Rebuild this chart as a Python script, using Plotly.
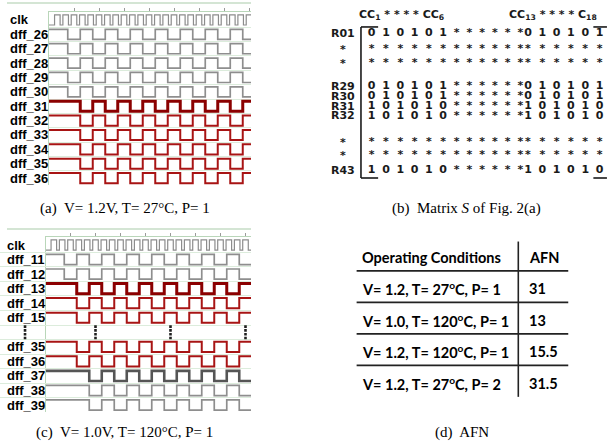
import plotly.graph_objects as go

W, H = 608, 442

# ---------------- data ----------------
# clock levels, one character per 1/9 of a flip-flop half period
CLK = ("0000"
       "111100111100111100111100111100111100"
       "111100111100111100111100111100111100"
       "111100111100111100111100111100111100"
       "111100111100111100111100111100111100")

# flip-flop output levels, one character per half period
rows_a = ["clk", "dff_26", "dff_27", "dff_28", "dff_29", "dff_30",
          "dff_31", "dff_32", "dff_33", "dff_34", "dff_35", "dff_36"]
waves_a = [CLK,
           "11010101010101010", "11010101010101010", "11010101010101010",
           "11010101010101010", "11010101010101010",
           "11101010101010101", "11101010101010101", "11101010101010101",
           "11101010101010101", "11101010101010101", "11101010101010101"]
kind_a = ["clk", "g", "g", "g", "g", "g", "R", "r", "r", "r", "r", "r"]

rows_c = ["clk", "dff_11", "dff_12", "dff_13", "dff_14", "dff_15", "⋮",
          "dff_35", "dff_36", "dff_37", "dff_38", "dff_39"]
waves_c = [CLK,
           "11010101010101010", "11010101010101010",
           "11101010101010101", "11101010101010101", "11101010101010101",
           None,
           "11101010101010101", "11101010101010101",
           "11110101010101010", "11110101010101010", "11110101010101010"]
kind_c = ["clk", "g", "g", "R", "r", "r", None, "r", "r", "G", "g", "g"]
dots_c = [4, 10, 16]

matrix_labels = ["R01", "*", "*", "R29", "R30", "R31", "R32", "*", "*", "R43"]
matrix_rows = ["010101******010101",
               "******************",
               "******************",
               "010101******010101",
               "010101******010101",
               "101010******101010",
               "101010******101010",
               "******************",
               "******************",
               "101010******101010"]
matrix_head = ["CC<sub>1</sub>\u00a0*\u00a0*\u00a0*\u00a0*\u00a0CC<sub>6</sub>",
               "CC<sub>13</sub>\u00a0*\u00a0*\u00a0*\u00a0*\u00a0C<sub>18</sub>"]

table_head = ["Operating Conditions", "AFN"]
conditions = ["V= 1.2, T= 27<sup>o</sup>C, P= 1",
              "V= 1.0, T= 120<sup>o</sup>C, P= 1",
              "V= 1.2, T= 120<sup>o</sup>C, P= 1",
              "V= 1.2, T= 27<sup>o</sup>C, P= 2"]
afn = ["31", "13", "15.5", "31.5"]

captions = ["(a)\u00a0 V= 1.2V, T= 27°C, P= 1",
            "(b)\u00a0 Matrix <i>S</i> of Fig. 2(a)",
            "(c)\u00a0 V= 1.0V, T= 120°C, P= 1",
            "(d)\u00a0 AFN"]

# ---------------- layout constants ----------------
AMP = 0.35
STYLE = {
    "clk": dict(color="#8c8c8c", width=1.2),
    "g": dict(color="#8e8e8e", width=1.7),
    "G": dict(color="#555555", width=2.6),
    "r": dict(color="#a81414", width=2.0),
    "R": dict(color="#8b0000", width=3.0),
}
GREEN = "#b9d6b9"
GRID = "#dcecdc"
LBL_FONT = dict(family="Liberation Sans, Arial", size=13, color="black")
MAT_FONT = dict(family="DejaVu Sans", size=11, color="#1a1a1a", weight="bold")
TAB_FONT = dict(family="Lato", size=14.5, color="black", weight="bold")
CAP_FONT = dict(family="Liberation Serif, Times New Roman", size=15, color="black")

fig = go.Figure()


def lvl(r, b):
    return r - AMP if b == "1" else r + AMP


def dff_xy(bits, r):
    n = len(bits)
    xs = [0] + [k - 0.5 for k in range(1, n)] + [n - 0.5]
    ys = [lvl(r, b) for b in bits] + [lvl(r, bits[-1])]
    return xs, ys


def clk_xy(bits, r):
    n = len(bits)
    xs = [j / 9 for j in range(n + 1)]
    ys = [lvl(r, b) for b in bits] + [lvl(r, bits[-1])]
    return xs, ys


annotations = []


def add_wave_panel(rows, waves, kinds, xa, ya, label_x):
    for r, (name, bits, kind) in enumerate(zip(rows, waves, kinds)):
        if bits is not None:
            xs, ys = (clk_xy if kind == "clk" else dff_xy)(bits, r)
            fig.add_trace(go.Scatter(x=xs, y=ys, mode="lines",
                                     line=dict(shape="hv", **STYLE[kind]),
                                     xaxis=xa, yaxis=ya, hoverinfo="skip",
                                     showlegend=False))
            annotations.append(dict(text="<b>%s</b>" % name, x=label_x, xref="paper",
                                    y=r, yref=ya, xanchor="left",
                                    yanchor="middle", showarrow=False, font=LBL_FONT))


add_wave_panel(rows_a, waves_a, kind_a, "x", "y", 8 / W)
add_wave_panel(rows_c, waves_c, kind_c, "x2", "y2", 5 / W)

# vertical ellipsis in panel (c): in the plot and in the label column
r_dots = rows_c.index("⋮")
offs = (-0.39, -0.13, 0.13, 0.39)
dot_marker = dict(symbol="square", size=2.6, color="#202020")
dx, dy = [], []
for xd in dots_c:
    for off in offs:
        dx.append(xd)
        dy.append(r_dots + off)
fig.add_trace(go.Scatter(x=dx, y=dy, mode="markers", xaxis="x2", yaxis="y2",
                         marker=dot_marker, hoverinfo="skip", showlegend=False))
fig.add_trace(go.Scatter(x=[0.55] * 4, y=[r_dots + o for o in offs], mode="markers",
                         xaxis="x5", yaxis="y2", marker=dot_marker,
                         hoverinfo="skip", showlegend=False))

# ---------------- matrix (b) ----------------
col_pos = [0, 1, 2, 3, 4, 5,
           5.94, 6.83, 7.72, 8.61, 9.5, 10.39,
           10.93, 11.93, 12.93, 13.93, 14.93, 15.93]
row_pos = [0, 1.7, 3.1, 5.5, 6.5, 7.5, 8.5, 11.2, 12.55, 14.05]
for lab, cells, yp in zip(matrix_labels, matrix_rows, row_pos):
    fig.add_trace(go.Scatter(x=col_pos, y=[yp] * len(cells), mode="text",
                             text=list(cells), textposition="middle center",
                             textfont=MAT_FONT, xaxis="x3", yaxis="y3",
                             hoverinfo="skip", showlegend=False, cliponaxis=False))
    annotations.append(dict(text=lab, x=-2.0, xref="x3", y=yp, yref="y3",
                            xanchor="center", yanchor="middle", showarrow=False,
                            font=MAT_FONT))
for txt, xh in zip(matrix_head, [-1.05, 9.45]):
    annotations.append(dict(text=txt, x=xh, xref="x3", y=-1.85, yref="y3",
                            xanchor="left", yanchor="middle", showarrow=False,
                            font=MAT_FONT))

shapes = []
br = dict(color="#1a1a1a", width=1.6)
shapes += [
    dict(type="line", xref="x3", yref="y3", x0=-0.75, x1=-0.75, y0=-0.62, y1=14.87, line=br),
    dict(type="line", xref="x3", yref="y3", x0=-0.75, x1=0.45, y0=-0.62, y1=-0.62, line=br),
    dict(type="line", xref="x3", yref="y3", x0=-0.75, x1=0.45, y0=14.87, y1=14.87, line=br),
    dict(type="line", xref="x3", yref="y3", x0=15.5, x1=16.45, y0=-0.62, y1=-0.62, line=br),
    dict(type="line", xref="x3", yref="y3", x0=15.5, x1=16.45, y0=14.87, y1=14.87, line=br),
]

# ---------------- table (d) ----------------
for c, txt in enumerate(table_head):
    annotations.append(dict(text=txt, x=c, xref="x4", y=0, yref="y4",
                            xanchor="left", yanchor="middle", showarrow=False,
                            font=TAB_FONT))
for i, (cond, v) in enumerate(zip(conditions, afn), start=1):
    annotations.append(dict(text=cond, x=0, xref="x4", y=i, yref="y4",
                            xanchor="left", yanchor="middle", showarrow=False,
                            font=TAB_FONT))
    annotations.append(dict(text=v, x=1, xref="x4", y=i, yref="y4",
                            xanchor="left", yanchor="middle", showarrow=False,
                            font=TAB_FONT))
tl = dict(color="#222222", width=1.6)
for i in range(len(conditions)):
    shapes.append(dict(type="line", xref="x4", yref="y4", x0=-0.02, x1=1.247,
                       y0=i + 0.43, y1=i + 0.43, line=tl))
shapes.append(dict(type="line", xref="x4", yref="y4", x0=0.948, x1=0.948,
                   y0=-0.5, y1=4.43, line=tl))

# top border lines of the waveform panels
for ypx in (3, 229):
    shapes.append(dict(type="line", xref="paper", yref="paper", x0=7 / W, x1=251 / W,
                       y0=1 - ypx / H, y1=1 - ypx / H, line=dict(color="#a9cba9", width=1.2)))

# captions
for txt, (cx, cy) in zip(captions, [(125, 208), (466, 208), (125, 432), (462, 432)]):
    annotations.append(dict(text=txt, x=cx / W, xref="paper", y=1 - cy / H, yref="paper",
                            xanchor="center", yanchor="middle", showarrow=False,
                            font=CAP_FONT))

wave_x = dict(side="top", showline=True, linecolor=GREEN, linewidth=1, ticks="outside",
              ticklen=3, tickcolor="#9a9a9a", tickvals=list(range(2, 18, 2)),
              showticklabels=False, showgrid=False, zeroline=False, fixedrange=True)
wave_y = dict(showline=True, linecolor=GREEN, linewidth=1, ticks="",
              tickvals=[k + 0.5 for k in range(11)], showgrid=True, gridcolor=GRID,
              gridwidth=1, showticklabels=False, zeroline=False, fixedrange=True)
hidden = dict(visible=False, fixedrange=True)

fig.update_layout(
    width=W, height=H, margin=dict(l=0, r=0, t=0, b=0),
    paper_bgcolor="white", plot_bgcolor="white", showlegend=False,
    xaxis=dict(domain=[49 / W, 251 / W], range=[0, (251 - 49) / 12.5], anchor="y", **wave_x),
    yaxis=dict(domain=[1 - 185.3 / H, 1 - 12 / H], range=[11.5, -0.556], anchor="x", **wave_y),
    xaxis2=dict(domain=[45.5 / W, 251 / W], range=[0, (251 - 45.5) / 12.5], anchor="y2", **wave_x),
    yaxis2=dict(domain=[1 - 412.3 / H, 1 - 237 / H], range=[11.5, -0.55], anchor="x2", **wave_y),
    xaxis3=dict(domain=[0.5, 1], range=[-4.734, 16.524], anchor="y3", **hidden),
    yaxis3=dict(domain=[0.5, 1], range=[19.28, -3.385], anchor="x3", **hidden),
    xaxis4=dict(domain=[0.5, 1], range=[-0.335, 1.485], anchor="y4", **hidden),
    yaxis4=dict(domain=[0, 0.5], range=[5.863, -1.152], anchor="x4", **hidden),
    xaxis5=dict(domain=[0, 45.5 / W], range=[0, 1], anchor="y2", **hidden),
    annotations=annotations, shapes=shapes,
)

fig.write_html("out.html",
               config={"displayModeBar": False, "staticPlot": True},
               post_script="document.body.style.margin='0';"
                           "document.body.style.overflow='hidden';")
